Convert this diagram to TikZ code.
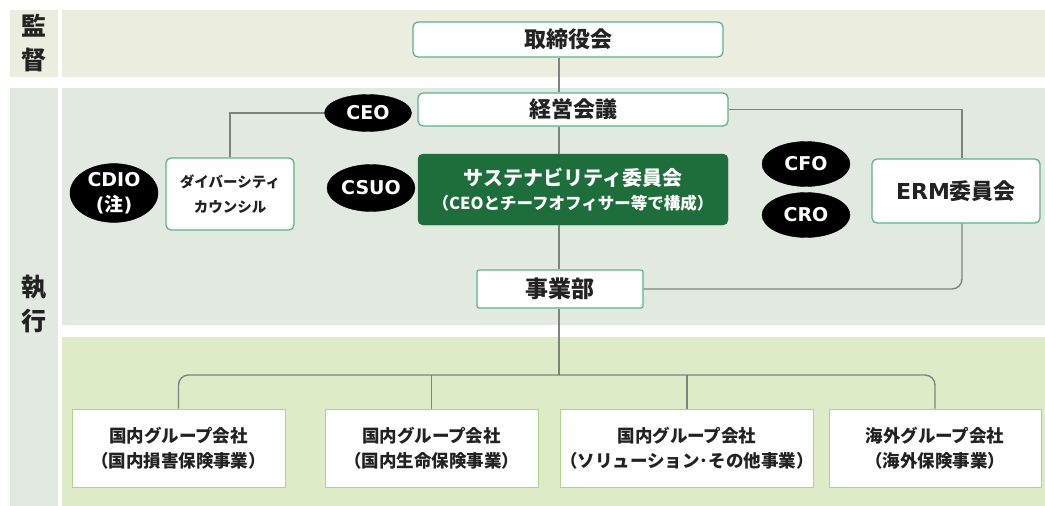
\documentclass[tikz,border=0pt]{standalone}
\usepackage{fontspec}
\usetikzlibrary{shapes.geometric}
\newfontfamily\jp{Noto Sans CJK JP}
\newfontfamily\lat{DejaVu Sans}
\definecolor{topband}{HTML}{EBEEDF}
\definecolor{execband}{HTML}{E2E9E1}
\definecolor{botband}{HTML}{DDEBC6}
\definecolor{boxline}{HTML}{5DB38C}
\definecolor{botline}{HTML}{AFD28F}
\definecolor{darkgreen}{HTML}{1E6E3B}
\definecolor{conn}{HTML}{7D8480}
\definecolor{txt}{HTML}{222222}
\tikzset{
  wbox/.style={draw=boxline, line width=1.3pt, fill=white, rounded corners=5pt, inner sep=0pt, text=txt, align=center},
  gbox/.style={draw=darkgreen, fill=darkgreen, rounded corners=5pt, inner sep=0pt, text=white, align=center},
  bbox/.style={draw=botline, line width=1pt, fill=white, inner sep=0pt, text=txt, align=center,
     minimum width=213pt, minimum height=78pt, font=\jp\bfseries\fontsize{17.5}{25}\selectfont},
  oval/.style={ellipse, fill=black, draw=black, inner sep=0pt, text=white, align=center,
     font=\lat\bfseries\fontsize{19}{27}\selectfont},
  link/.style={draw=conn, line width=1.4pt},
  lbl/.style={text=txt, font=\jp\bfseries\fontsize{25}{34}\selectfont, align=center}
}
\begin{document}
\begin{tikzpicture}[x=1pt,y=-1pt]
\useasboundingbox (0,0) rectangle (1045,506);
% bands
\fill[topband] (10,10) rectangle (58,77);
\fill[topband] (62,10) rectangle (1045,77);
\fill[execband] (10,88) rectangle (58,506);
\fill[execband] (62,88) rectangle (1045,325);
\fill[botband] (62,337) rectangle (1045,506);
\node[lbl] (lsup) at (34,43) {監\\督};
\node[lbl] (lexe) at (34,304) {執\\行};
% coordinates
\coordinate (tr) at (559,0);
\coordinate (er) at (962,0);
\coordinate (bus) at (0,375);
% nodes
\node[wbox, minimum width=310pt, minimum height=35pt, font=\jp\bfseries\fontsize{22}{24}\selectfont] (board) at (568,39.5) {取締役会};
\node[wbox, minimum width=310pt, minimum height=33pt, font=\jp\bfseries\fontsize{22}{24}\selectfont] (mgmt) at (573,109.5) {経営会議};
\node[gbox, minimum width=310pt, minimum height=71pt] (sust) at (573,189.5)
  {{\jp\bfseries\fontsize{20}{27}\selectfont サステナビリティ委員会}\\[7pt]{\jp\bfseries\fontsize{16.5}{20}\selectfont （CEOとチーフオフィサー等で構成）}};
\node[wbox, rounded corners=2pt, minimum width=166pt, minimum height=38pt, font=\jp\bfseries\fontsize{23}{24}\selectfont] (biz) at (560,289) {事業部};
\node[wbox, minimum width=128pt, minimum height=72pt, font=\jp\bfseries\fontsize{14.5}{25}\selectfont] (div) at (230,194) {ダイバーシティ\\カウンシル};
\node[wbox, minimum width=168pt, minimum height=64pt, font=\jp\bfseries\fontsize{22}{24}\selectfont] (erm) at (956,191) {{\lat ERM}委員会};
\node[oval, minimum width=87pt, minimum height=37pt] (ceo) at (368,113) {CEO};
\node[oval, minimum width=88pt, minimum height=47pt] (csuo) at (371,188) {CSUO};
\node[oval, minimum width=88pt, minimum height=56pt] (cdio) at (114,193) {CDIO\\[-2pt](\jp 注\lat)};
\node[oval, minimum width=88pt, minimum height=45pt] (cfo) at (806,164) {CFO};
\node[oval, minimum width=88pt, minimum height=45pt] (cro) at (806,215) {CRO};
\node[bbox] (b1) at (178.5,448) {国内グループ会社\\（国内損害保険事業）};
\node[bbox] (b2) at (431.5,448) {国内グループ会社\\（国内生命保険事業）};
\node[bbox, minimum width=220pt] (b3) at (687,448) {国内グループ会社\\（ソリューション･その他事業）};
\node[bbox, minimum width=212pt] (b4) at (935,448) {海外グループ会社\\（海外保険事業）};
% connectors
\draw[link] (board.south -| tr) -- (mgmt.north -| tr);
\draw[link] (mgmt.south -| tr) -- (sust.north -| tr);
\draw[link] (sust.south -| tr) -- (biz.north -| tr);
\draw[link] (biz.south -| tr) -- (tr |- bus);
\draw[link, rounded corners=10pt] (b1.north) -- (b1.north |- bus) -- (b4.north |- bus) -- (b4.north);
\draw[link] (b2.north) -- (b2.north |- bus);
\draw[link] (b3.north) -- (b3.north |- bus);
\draw[link] (ceo.west) -| (div.north);
\draw[link] (mgmt.east) -| (erm.north -| er);
\draw[link, rounded corners=10pt] (erm.south -| er) -- (er |- biz.east) -- (biz.east);
\end{tikzpicture}
\end{document}
